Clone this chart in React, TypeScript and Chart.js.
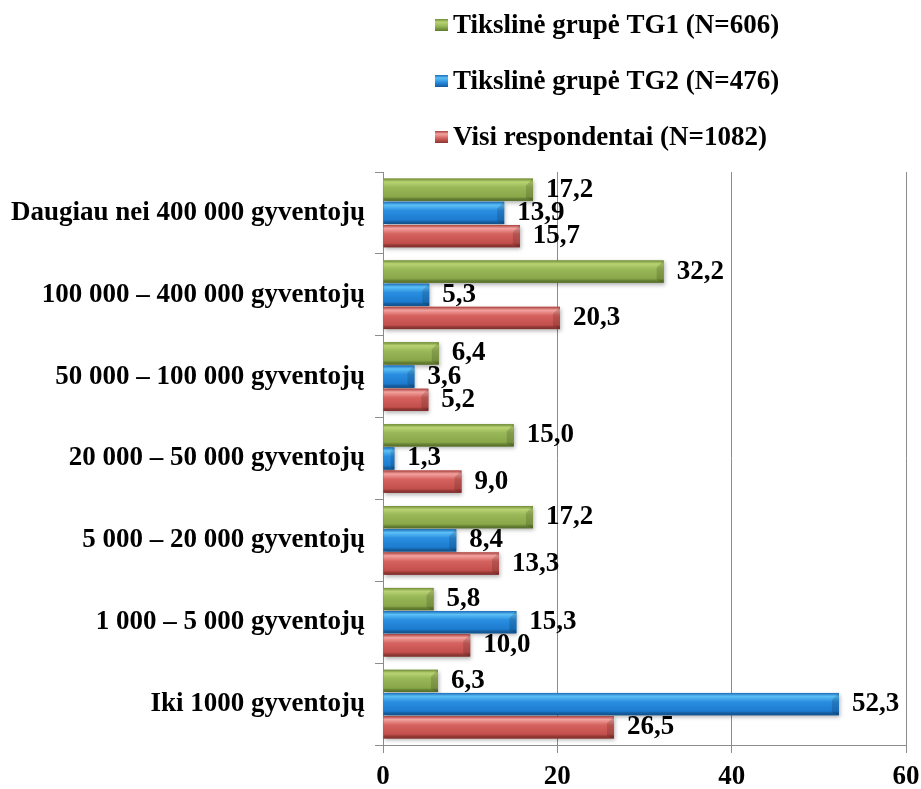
import React, { useEffect, useRef } from "react";
import { Chart, registerables } from "chart.js";

Chart.register(...registerables);

const categories = [
  "Daugiau nei 400 000 gyventojų",
  "100 000 – 400 000 gyventojų",
  "50 000 – 100 000 gyventojų",
  "20 000 – 50 000 gyventojų",
  "5 000 – 20 000 gyventojų",
  "1 000 – 5 000 gyventojų",
  "Iki 1000 gyventojų",
];
const seriesNames = [
  "Tikslinė grupė TG1 (N=606)",
  "Tikslinė grupė TG2 (N=476)",
  "Visi respondentai (N=1082)",
];
const tg1 = [17.2, 32.2, 6.4, 15.0, 17.2, 5.8, 6.3];
const tg2 = [13.9, 5.3, 3.6, 1.3, 8.4, 15.3, 52.3];
const visi = [15.7, 20.3, 5.2, 9.0, 13.3, 10.0, 26.5];
const xTicks = [0, 20, 40, 60];

const baseColors = ["#8fae4f", "#1f82d8", "#c9524f"];
const gradStops = [
  ["#6f8c37", "#b9d372", "#98b757", "#8aa84a", "#5e7a2c"],
  ["#1a6cb8", "#5cc0f6", "#2a8ee0", "#1d7ccf", "#145a9c"],
  ["#a9403d", "#f3a3a0", "#d5625e", "#c4504d", "#8c3431"],
];

const FONT = "'Times New Roman', 'Liberation Serif', serif";
const FS = 27;

const barStylePlugin = {
  id: "barStyle",
  afterDatasetsDraw(chart: any) {
    const ctx = chart.ctx;
    chart.data.datasets.forEach((ds: any, di: number) => {
      const meta = chart.getDatasetMeta(di);
      meta.data.forEach((el: any) => {
        const p = el.getProps(["x", "y", "base", "height"], true);
        const left = Math.min(p.base, p.x);
        const right = Math.max(p.base, p.x);
        const top = p.y - p.height / 2;
        const h = p.height;
        const g = ctx.createLinearGradient(0, top, 0, top + h);
        const s = gradStops[di];
        g.addColorStop(0, s[0]);
        g.addColorStop(0.15, s[1]);
        g.addColorStop(0.4, s[2]);
        g.addColorStop(0.8, s[3]);
        g.addColorStop(1, s[4]);
        ctx.save();
        ctx.shadowColor = "rgba(0,0,0,0.3)";
        ctx.shadowBlur = 4;
        ctx.shadowOffsetX = 1;
        ctx.shadowOffsetY = 2;
        ctx.fillStyle = g;
        ctx.fillRect(left, top, right - left, h);
        ctx.restore();
        const bw = Math.min(7, (right - left) / 3);
        ctx.save();
        ctx.fillStyle = "rgba(0,0,0,0.14)";
        ctx.beginPath();
        ctx.moveTo(right - bw, top + bw);
        ctx.lineTo(right, top);
        ctx.lineTo(right, top + h);
        ctx.lineTo(right - bw, top + h - 3);
        ctx.closePath();
        ctx.fill();
        ctx.fillStyle = "rgba(0,0,0,0.1)";
        ctx.fillRect(left, top + h - 3, right - left, 3);
        ctx.restore();
      });
    });
  },
};

const labelPlugin = {
  id: "valueLabels",
  afterDatasetsDraw(chart: any) {
    const ctx = chart.ctx;
    ctx.save();
    ctx.font = `bold ${FS}px ${FONT}`;
    ctx.fillStyle = "#000";
    ctx.textAlign = "left";
    ctx.textBaseline = "middle";
    chart.data.datasets.forEach((ds: any, di: number) => {
      const meta = chart.getDatasetMeta(di);
      meta.data.forEach((el: any, i: number) => {
        const v = ds.data[i];
        const txt = v.toFixed(1).replace(".", ",");
        ctx.fillText(txt, el.x + 13, el.y);
      });
    });
    ctx.restore();
  },
};

const legendPlugin = {
  id: "customLegend",
  afterDraw(chart: any) {
    const ctx = chart.ctx;
    const ys = [25, 81, 137];
    ctx.save();
    ctx.font = `bold ${FS}px ${FONT}`;
    ctx.textAlign = "left";
    ctx.textBaseline = "middle";
    chart.data.datasets.forEach((ds: any, di: number) => {
      const y = ys[di];
      const g = ctx.createLinearGradient(0, y - 6, 0, y + 6);
      const s = gradStops[di];
      g.addColorStop(0, s[0]);
      g.addColorStop(0.25, s[1]);
      g.addColorStop(0.6, s[2]);
      g.addColorStop(1, s[4]);
      ctx.fillStyle = g;
      ctx.fillRect(435, y - 6, 13, 12);
      ctx.fillStyle = "#000";
      ctx.fillText(ds.label, 453, y + 1);
    });
    ctx.restore();
  },
};

export default function App() {
  const ref = useRef<HTMLCanvasElement>(null);
  useEffect(() => {
    document.body.style.margin = "0";
    const chart = new Chart(ref.current as HTMLCanvasElement, {
      type: "bar",
      data: {
        labels: categories,
        datasets: [tg1, tg2, visi].map((d, i) => ({
          label: seriesNames[i],
          data: d,
          backgroundColor: baseColors[i],
          borderWidth: 0,
          categoryPercentage: 0.85,
          barPercentage: 0.96,
        })),
      },
      options: {
        indexAxis: "y",
        animation: false,
        responsive: true,
        maintainAspectRatio: false,
        layout: { padding: { top: 172, right: 15, left: 0, bottom: 0 } },
        plugins: {
          legend: { display: false },
          tooltip: { enabled: false },
        },
        scales: {
          x: {
            min: 0,
            max: 60,
            afterBuildTicks: (scale: any) => {
              scale.ticks = xTicks.map((v) => ({ value: v }));
            },
            afterFit: (scale: any) => {
              scale.height = 44;
              scale.paddingLeft = 0;
              scale.paddingRight = 0;
            },
            ticks: {
              color: "#000",
              font: { family: FONT, size: FS, weight: "bold" },
              padding: 8,
            },
            grid: { color: "#8c8c8c", tickLength: 8, lineWidth: 1 },
            border: { color: "#8c8c8c" },
          },
          y: {
            afterFit: (scale: any) => {
              scale.width = 383;
            },
            ticks: {
              color: "#000",
              font: { family: FONT, size: FS, weight: "bold" },
              padding: 10,
            },
            grid: {
              drawOnChartArea: false,
              tickLength: 8,
              color: "#8c8c8c",
              offset: true,
            },
            border: { color: "#8c8c8c" },
          },
        },
      } as any,
      plugins: [barStylePlugin, labelPlugin, legendPlugin],
    });
    return () => chart.destroy();
  }, []);
  return (
    <div style={{ position: "relative", width: 921, height: 789, overflow: "hidden" }}>
      <canvas ref={ref} />
    </div>
  );
}
